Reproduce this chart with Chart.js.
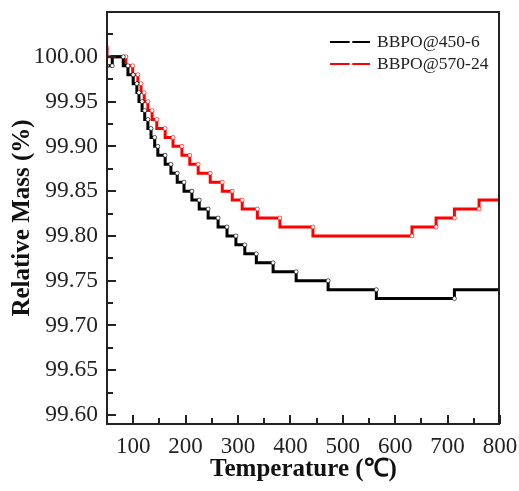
<!DOCTYPE html>
<html>
<head>
<meta charset="utf-8">
<script src="https://cdn.jsdelivr.net/npm/chart.js@4/dist/chart.umd.min.js"></script>
<style>
  html, body { margin: 0; padding: 0; background: #fff; }
  #wrap { width: 519px; height: 491px; }
</style>
</head>
<body>
<div id="wrap"><canvas id="tga"></canvas></div>
<script>
// step end points (temperature in C, relative mass in %)
const seriesNames = ['BBPO@450-6', 'BBPO@570-24'];

const blackTemp = [50, 60, 81, 90, 100, 107, 111, 117, 122, 128, 134, 141, 147, 161, 172, 184, 197, 212, 226, 243, 262, 279, 296, 313, 335, 367, 411, 472, 564, 713, 800];
const blackMass = [99.99, 99.99, 100.00, 99.99, 99.98, 99.97, 99.96, 99.95, 99.94, 99.93, 99.92, 99.91, 99.90, 99.89, 99.88, 99.87, 99.86, 99.85, 99.84, 99.83, 99.82, 99.81, 99.80, 99.79, 99.78, 99.77, 99.76, 99.75, 99.74, 99.73, 99.74];

const redTemp = [50, 86, 99, 109, 115, 121, 128, 136, 145, 161, 176, 193, 208, 224, 247, 270, 289, 308, 337, 380, 443, 632, 678, 713, 760, 800];
const redMass = [100.01, 100.00, 99.99, 99.98, 99.97, 99.96, 99.95, 99.94, 99.93, 99.92, 99.91, 99.90, 99.89, 99.88, 99.87, 99.86, 99.85, 99.84, 99.83, 99.82, 99.81, 99.80, 99.81, 99.82, 99.83, 99.84];

const xTicks = [100, 200, 300, 400, 500, 600, 700, 800];
const xTickLabels = ['100', '200', '300', '400', '500', '600', '700', '800'];
const yTicks = [99.60, 99.65, 99.70, 99.75, 99.80, 99.85, 99.90, 99.95, 100.00];
const yTickLabels = ['99.60', '99.65', '99.70', '99.75', '99.80', '99.85', '99.90', '99.95', '100.00'];

const toPoints = (xs, ys) => xs.map((x, i) => ({ x: x, y: ys[i] }));
const colors = ['#000000', '#ff0000'];
const serif = '"Liberation Serif", "Times New Roman", serif';

// no extra room for edge labels, the frame is fixed
const noPad = s => { s.paddingTop = 0; s.paddingBottom = 0; s.paddingLeft = 0; s.paddingRight = 0; };

// frame, inward ticks and legend
const framePlugin = {
  id: 'frame',
  afterDatasetsDraw(chart) {
    const ctx = chart.ctx;
    const a = chart.chartArea;
    const sx = chart.scales.x, sy = chart.scales.y;
    const l = Math.round(a.left), r = Math.round(a.right);
    const t = Math.round(a.top), b = Math.round(a.bottom);
    ctx.save();
    ctx.fillStyle = '#222';
    ctx.fillRect(l - 1, t - 1, r - l + 1, 2);
    ctx.fillRect(l - 1, b - 1, r - l + 1, 2);
    ctx.fillRect(l - 1, t - 1, 2, b - t + 2);
    ctx.fillRect(r - 2, t - 1, 2, b - t + 2);

    xTicks.forEach((v, i) => {
      const px = Math.round(sx.getPixelForValue(v));
      ctx.fillRect(px - 1, b - 9, 2, 9);
      if (i > 0) {
        const mx = Math.round(sx.getPixelForValue((v + xTicks[i - 1]) / 2));
        ctx.fillRect(mx - 1, b - 6, 2, 6);
      }
    });
    const ys = yTicks.concat([100.05]);
    ys.forEach((v, i) => {
      if (i < yTicks.length) {
        const py = Math.round(sy.getPixelForValue(v));
        ctx.fillRect(l, py - 1, 9, 2);
      }
      if (i > 0) {
        const my = Math.round(sy.getPixelForValue((v + ys[i - 1]) / 2));
        ctx.fillRect(l, my - 1, 6, 2);
      }
    });

    // legend
    ctx.font = '17.5px ' + serif;
    ctx.textBaseline = 'middle';
    chart.data.datasets.forEach((ds, i) => {
      const ly = 42 + i * 22;
      ctx.fillStyle = ds.borderColor;
      ctx.fillRect(330, ly - 1, 40, 2);
      ctx.fillStyle = '#fff';
      ctx.beginPath();
      ctx.arc(351, ly, 1.5, 0, Math.PI * 2);
      ctx.fill();
      ctx.fillStyle = '#222';
      ctx.fillText(ds.label, 377, ly);
    });
    ctx.restore();
  }
};

new Chart(document.getElementById('tga'), {
  type: 'line',
  data: {
    datasets: [
      { label: seriesNames[0], data: toPoints(blackTemp, blackMass) },
      { label: seriesNames[1], data: toPoints(redTemp, redMass) }
    ].map((ds, i) => Object.assign(ds, {
      borderColor: colors[i],
      backgroundColor: colors[i],
      borderWidth: 3,
      stepped: 'after',
      pointRadius: 2,
      pointBackgroundColor: '#fff',
      pointBorderColor: colors[i],
      pointBorderWidth: 0.6
    }))
  },
  options: {
    responsive: true,
    maintainAspectRatio: false,
    animation: false,
    events: [],
    layout: { padding: { left: 0, right: 19, top: 12, bottom: 0 } },
    plugins: { legend: { display: false }, tooltip: { enabled: false } },
    scales: {
      x: {
        type: 'linear',
        min: 50,
        max: 800,
        afterBuildTicks: s => { s.ticks = xTicks.map(v => ({ value: v })); },
        afterFit: s => { s.height = 67; noPad(s); },
        grid: { display: false },
        border: { display: false },
        ticks: {
          color: '#222',
          padding: 1,
          maxRotation: 0,
          font: { family: serif, size: 23 },
          callback: (v, i) => xTickLabels[i]
        },
        title: {
          display: true,
          text: 'Temperature (℃)',
          color: '#111',
          padding: { top: 0, bottom: 6 },
          font: { family: serif, size: 25, weight: 'bold' }
        }
      },
      y: {
        type: 'linear',
        min: 99.59,
        max: 100.05,
        afterBuildTicks: s => { s.ticks = yTicks.map(v => ({ value: v })); },
        afterFit: s => { s.width = 107; noPad(s); },
        grid: { display: false },
        border: { display: false },
        ticks: {
          color: '#222',
          padding: 1,
          font: { family: serif, size: 23.5 },
          callback: (v, i) => yTickLabels[i]
        },
        title: {
          display: true,
          text: 'Relative Mass (%)',
          color: '#111',
          padding: { top: 8, bottom: 0 },
          font: { family: serif, size: 25, weight: 'bold' }
        }
      }
    }
  },
  plugins: [framePlugin]
});
</script>
</body>
</html>
